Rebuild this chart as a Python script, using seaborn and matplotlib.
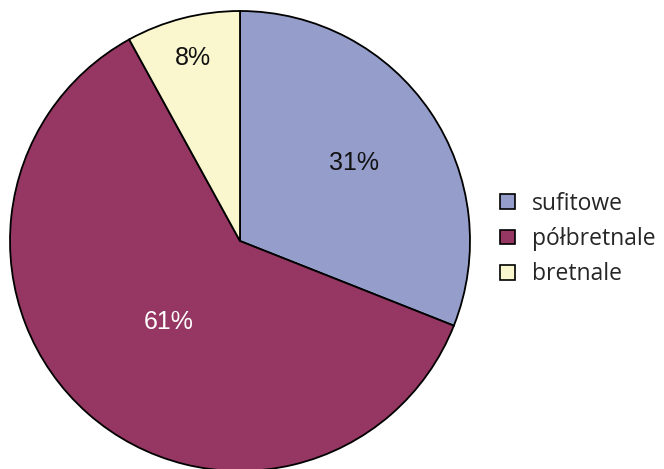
import matplotlib
matplotlib.use("Agg")
import matplotlib.pyplot as plt
import seaborn as sns
import numpy as np
from matplotlib.patches import Patch

sns.set_theme(style="white")
plt.rcParams['font.family'] = ['Liberation Sans', 'DejaVu Sans']

categories = ["sufitowe", "półbretnale", "bretnale"]
values = [31, 61, 8]
colors = ["#959DCB", "#953762", "#FAF7CE"]
label_colors = ["#111111", "#FFFFFF", "#111111"]
label_dist = [0.6, 0.47, 0.82]

fig = plt.figure(figsize=(6.64, 4.69), dpi=100)
ax = fig.add_axes([10/664, -2/469, 460/664, 460/469])
wedges, _ = ax.pie(values, colors=colors, startangle=90, counterclock=False,
                   wedgeprops=dict(edgecolor="black", linewidth=1.3))
ax.set_xlim(-1, 1)
ax.set_ylim(-1, 1)
ax.set_aspect("equal")

for w, v, c, d in zip(wedges, values, label_colors, label_dist):
    ang = np.deg2rad((w.theta1 + w.theta2) / 2)
    ax.text(d * np.cos(ang), d * np.sin(ang), f"{v}%", ha="center", va="center",
            fontsize=18, color=c)

handles = [Patch(facecolor=col, edgecolor="black", linewidth=1.2) for col in colors]
fig.legend(handles, categories, loc="center left", bbox_to_anchor=(489/664, 1 - 239/469),
           frameon=False, borderpad=0.0,
           prop={"family": ["Open Sans", "DejaVu Sans"], "size": 16.5},
           handlelength=0.62, handleheight=0.62, handletextpad=0.75, labelspacing=0.5)

fig.savefig("out.png", dpi=100)
